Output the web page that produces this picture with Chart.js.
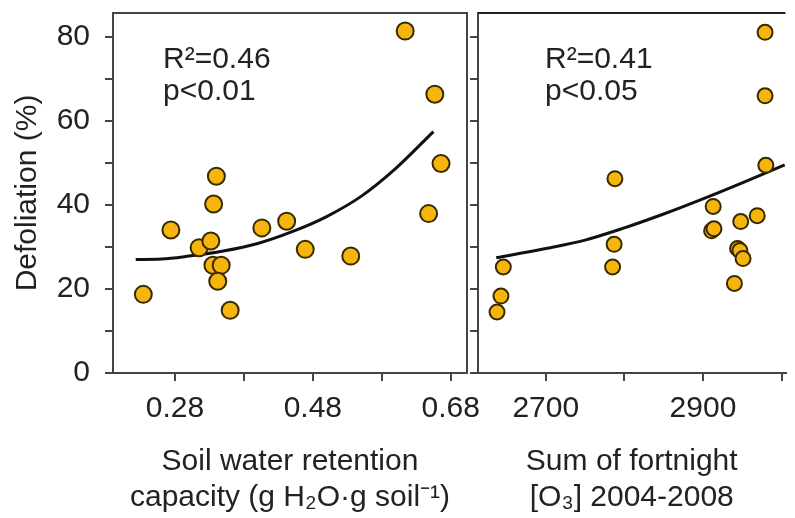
<!DOCTYPE html>
<html>
<head>
<meta charset="utf-8">
<script src="https://cdn.jsdelivr.net/npm/chart.js@4.4.1/dist/chart.umd.min.js"></script>
<style>
  body { margin: 0; background: #fff; }
  #wrap { position: relative; width: 795px; height: 518px; overflow: hidden; background: #fff; }
  canvas { position: absolute; top: 0; }
  #soilChart { left: 0; }
  #ozoneChart { left: 468px; }
</style>
</head>
<body>
<div id="wrap">
  <canvas id="soilChart" width="484" height="518"></canvas>
  <canvas id="ozoneChart" width="327" height="518"></canvas>
</div>
<script>
// left panel - soil water retention capacity
const soilX = [0.234, 0.274, 0.315, 0.332, 0.336, 0.340, 0.335, 0.347, 0.342, 0.360, 0.406, 0.442, 0.469, 0.535, 0.648, 0.666, 0.614, 0.657];
const soilY = [18.7, 34.0, 29.8, 31.4, 40.2, 46.8, 25.6, 25.6, 21.8, 14.9, 34.5, 36.1, 29.4, 27.8, 37.9, 49.8, 81.3, 66.3];
const soilFitX = [0.223, 0.26, 0.30, 0.35, 0.40, 0.45, 0.50, 0.55, 0.60, 0.655];
const soilFitY = [27.0, 27.1, 27.8, 29.0, 30.8, 33.6, 37.2, 42.0, 48.6, 57.4];
const soilTicks = [0.28, 0.38, 0.48, 0.58, 0.68];
const soilTickLabels = ['0.28', '', '0.48', '', '0.68'];
const soilTitle = ['Soil water retention', 'capacity (g H\u2082O\u00b7g soil\u207b\u00b9)'];
const soilNote = ['R\u00b2=0.46', 'p<0.01'];

// right panel - ozone sum
const ozoneX = [2646, 2643, 2638, 2788, 2787, 2785, 2913, 2911, 2914, 2948, 2969, 2944, 2947, 2951, 2940, 2980, 2979, 2979];
const ozoneY = [25.2, 18.3, 14.5, 46.2, 30.6, 25.2, 39.6, 33.8, 34.3, 36.0, 37.4, 29.6, 29.1, 27.2, 21.3, 49.4, 81.0, 65.9];
const ozoneFitX = [2637, 2700, 2750, 2800, 2850, 2900, 2950, 3004];
const ozoneFitY = [27.4, 29.6, 31.6, 34.5, 37.8, 41.4, 45.2, 49.5];
const ozoneTicks = [2700, 2800, 2900, 3000];
const ozoneTickLabels = ['2700', '', '2900', ''];
const ozoneTitle = ['Sum of fortnight', '[O\u2083] 2004-2008'];
const ozoneNote = ['R\u00b2=0.41', 'p<0.05'];

const defolTicks = [0, 10, 20, 30, 40, 50, 60, 70, 80];
const defolTickLabels = ['0', '', '20', '', '40', '', '60', '', '80'];

Chart.defaults.font.family = '"Liberation Sans", Arial, Helvetica, sans-serif';
Chart.defaults.color = '#222';

const pts = (xs, ys) => xs.map((x, i) => ({x: x, y: ys[i]}));

// box lines + R2 text
const framePlugin = {
    id: 'frame',
    afterDraw(chart, args, opts) {
        const {ctx, chartArea: a} = chart;
        ctx.save();
        ctx.strokeStyle = '#222';
        ctx.lineWidth = 2;
        ctx.beginPath();
        ctx.moveTo(a.left, a.top);
        ctx.lineTo(a.right, a.top);
        if (opts.right) {
            ctx.strokeStyle = '#444';
            ctx.lineTo(a.right, a.bottom);
        }
        ctx.stroke();
        ctx.fillStyle = '#222';
        ctx.font = '30px "Liberation Sans", Arial, sans-serif';
        ctx.textBaseline = 'alphabetic';
        opts.note.forEach((t, i) => ctx.fillText(t, a.left + opts.dx, 68 + i * 32));
        ctx.restore();
    }
};

function makeChart(id, cfg) {
    return new Chart(document.getElementById(id), {
        type: 'scatter',
        data: {
            datasets: [{
                data: pts(cfg.x, cfg.y),
                backgroundColor: '#F6B50C',
                borderColor: '#382a00',
                borderWidth: 2,
                pointRadius: cfg.r,
                pointHoverRadius: cfg.r
            }, {
                data: pts(cfg.fitX, cfg.fitY),
                showLine: true,
                borderColor: '#111',
                borderWidth: 3,
                pointRadius: 0,
                tension: 0.4,
                cubicInterpolationMode: 'monotone'
            }]
        },
        options: {
            responsive: false,
            animation: false,
            devicePixelRatio: 1,
            layout: {padding: {top: 13, right: cfg.padRight, left: 0, bottom: 0}},
            plugins: {
                legend: {display: false},
                tooltip: {enabled: false},
                frame: {right: cfg.boxRight, note: cfg.note, dx: cfg.noteDx}
            },
            scales: {
                x: {
                    type: 'linear',
                    min: cfg.xMin,
                    max: cfg.xMax,
                    afterBuildTicks: s => { s.ticks = cfg.ticks.map(v => ({value: v})); },
                    afterFit: s => { s.height = 145; s.paddingLeft = 0; s.paddingRight = 0; },
                    ticks: {
                        autoSkip: false,
                        maxRotation: 0,
                        padding: 10,
                        font: {size: 30},
                        color: '#222',
                        callback: (v, i) => cfg.tickLabels[i]
                    },
                    grid: {drawOnChartArea: false, color: '#444', lineWidth: 2, tickLength: 8},
                    border: {display: true, color: '#444', width: 2},
                    title: {
                        display: true,
                        text: cfg.title,
                        font: {size: 30},
                        color: '#222',
                        padding: {top: 0, bottom: 2}
                    }
                },
                y: {
                    min: 0,
                    max: 85.6,
                    afterBuildTicks: s => { s.ticks = defolTicks.map(v => ({value: v})); },
                    afterFit: s => { s.width = cfg.yWidth; s.paddingTop = 0; s.paddingBottom = 0; },
                    ticks: {
                        padding: 15,
                        font: {size: 30},
                        color: '#222',
                        callback: (v, i) => cfg.showY ? defolTickLabels[i] : ''
                    },
                    grid: {drawOnChartArea: false, color: '#444', lineWidth: 2, tickLength: 8},
                    border: {display: true, color: '#444', width: 2},
                    title: {
                        display: cfg.showY,
                        text: 'Defoliation (%)',
                        font: {size: 30},
                        color: '#222',
                        padding: {top: 10, bottom: 0}
                    }
                }
            }
        },
        plugins: [framePlugin]
    });
}

makeChart('soilChart', {
    x: soilX, y: soilY, fitX: soilFitX, fitY: soilFitY,
    ticks: soilTicks, tickLabels: soilTickLabels, title: soilTitle,
    note: soilNote, noteDx: 50, r: 8.5,
    xMin: 0.190, xMax: 0.7037, yWidth: 113, padRight: 17,
    showY: true, boxRight: true
});

makeChart('ozoneChart', {
    x: ozoneX, y: ozoneY, fitX: ozoneFitX, fitY: ozoneFitY,
    ticks: ozoneTicks, tickLabels: ozoneTickLabels, title: ozoneTitle,
    note: ozoneNote, noteDx: 67, r: 7.5,
    xMin: 2613.8, xMax: 3005, yWidth: 10, padRight: 0,
    showY: false, boxRight: false
});
</script>
</body>
</html>
